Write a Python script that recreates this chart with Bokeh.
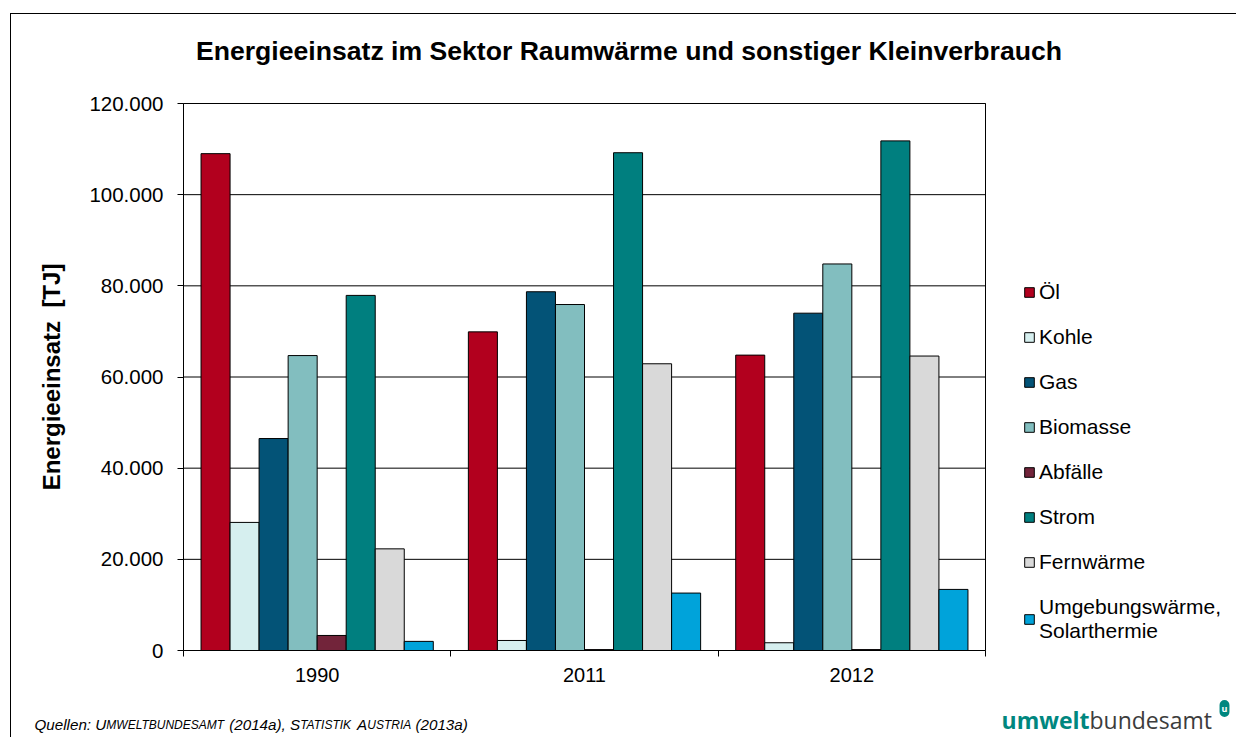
from bokeh.plotting import figure
from bokeh.models import (ColumnDataSource, Range1d, LinearAxis, FixedTicker, Legend,
                          LegendItem, Label)
from bokeh.transform import dodge
from bokeh.embed import file_html
from bokeh.resources import INLINE

# ---------------- data ----------------
years = ["1990", "2011", "2012"]
series = ["Öl", "Kohle", "Gas", "Biomasse", "Abfälle", "Strom", "Fernwärme",
          "Umgebungswärme,\nSolarthermie"]
oel = [109000, 69900, 64800]
kohle = [28100, 2200, 1700]
gas = [46500, 78700, 74000]
biomasse = [64700, 75900, 84800]
abfaelle = [3300, 200, 200]
strom = [77900, 109200, 111800]
fernwaerme = [22300, 62900, 64600]
umgebung = [2000, 12600, 13400]
colors = ["#B2001E", "#D6EFEF", "#035377", "#82BEBF", "#72243A", "#007F7F", "#D9D9D9", "#00A3DA"]
y_ticks = [0, 20000, 40000, 60000, 80000, 100000, 120000]
y_tick_labels = ["0", "20.000", "40.000", "60.000", "80.000", "100.000", "120.000"]
y_max = 120000
title_text = "Energieeinsatz im Sektor Raumwärme und sonstiger Kleinverbrauch"
y_label = "Energieeinsatz\u00a0 [TJ]"

# category positions on a numeric axis (one unit per year)
n_years = len(years)
x_centers = [i + 0.5 for i in range(n_years)]
x_edges = list(range(n_years + 1))

cols = ["oel", "kohle", "gas", "biomasse", "abfaelle", "strom", "fernwaerme", "umgebung"]
src = ColumnDataSource(dict(x=x_centers, year=years, oel=oel, kohle=kohle, gas=gas,
                            biomasse=biomasse, abfaelle=abfaelle, strom=strom,
                            fernwaerme=fernwaerme, umgebung=umgebung))
grid_src = ColumnDataSource(dict(y=y_ticks))

FONT = "Liberation Sans"

# ---------------- layout (pixels) ----------------
W, H = 1226, 724                      # canvas
PL, PR, PT, PB = 172, 974, 89, 636    # plot area inside the canvas
ux = (PR - PL) / n_years
uy = (PB - PT) / y_max
x_range = Range1d(-PL / ux, n_years + (W - PR) / ux)
y_range = Range1d(-(H - PB) / uy, y_max + PT / uy)

p = figure(x_range=x_range, y_range=y_range, width=W, height=H,
           output_backend="svg", toolbar_location=None,
           x_axis_location=None, y_axis_location=None,
           min_border=0)
p.background_fill_color = "white"
p.border_fill_color = "white"
p.outline_line_color = None
p.grid.visible = False
p.styles = {"border-left": "1px solid black", "border-top": "1px solid black",
            "margin-left": "10px", "margin-top": "13px"}

# grid lines across the plot area
p.segment(x0=0, x1=n_years, y0="y", y1="y", source=grid_src, line_color="black",
          line_width=1)

# y axis
yaxis = LinearAxis(fixed_location=0, bounds=(0, y_max), ticker=FixedTicker(ticks=y_ticks),
                   major_label_overrides={t: l for t, l in zip(y_ticks, y_tick_labels)},
                   major_tick_out=6, major_tick_in=0, minor_tick_line_color=None,
                   axis_line_color="black", major_tick_line_color="black",
                   major_label_standoff=14, major_label_text_font=FONT,
                   major_label_text_font_size="20.5px", major_label_text_color="black",
                   axis_label=y_label, axis_label_text_font=FONT,
                   axis_label_text_font_size="24px", axis_label_text_font_style="bold",
                   axis_label_text_color="black", axis_label_standoff=21)
p.add_layout(yaxis, "left")

# right border of the plot area
p.add_layout(LinearAxis(fixed_location=n_years, bounds=(0, y_max), ticker=FixedTicker(ticks=[]),
                        major_tick_line_color=None, minor_tick_line_color=None,
                        major_label_text_color=None, axis_line_color="black"), "right")
# top border of the plot area
p.add_layout(LinearAxis(fixed_location=y_max, bounds=(0, n_years), ticker=FixedTicker(ticks=[]),
                        major_tick_line_color=None, minor_tick_line_color=None,
                        major_label_text_color=None, axis_line_color="black"), "above")

# x axis: boundary ticks + category labels
p.add_layout(LinearAxis(fixed_location=0, bounds=(0, n_years), ticker=FixedTicker(ticks=x_edges),
                        major_tick_out=6, major_tick_in=0, minor_tick_line_color=None,
                        major_label_text_color=None, major_label_standoff=0,
                        axis_line_color="black", major_tick_line_color="black"), "below")
p.add_layout(LinearAxis(fixed_location=0, bounds=(0, n_years), ticker=FixedTicker(ticks=x_centers),
                        major_label_overrides={c: y for c, y in zip(x_centers, years)},
                        major_tick_line_color=None, minor_tick_line_color=None,
                        axis_line_color=None, major_tick_out=0, major_tick_in=0,
                        major_label_standoff=17, major_label_text_font=FONT,
                        major_label_text_font_size="20px", major_label_text_color="black"),
             "below")

# bars
n = len(series)
bw = 0.1086
renderers = []
for i, c in enumerate(cols):
    r = p.vbar(x=dodge("x", (i - (n - 1) / 2) * bw), top=c, width=bw,
               source=src, fill_color=colors[i], line_color="black", line_width=1)
    renderers.append(r)

legend = Legend(items=[LegendItem(label=s, renderers=[r]) for s, r in zip(series, renderers)],
                location=(1012, 95), orientation="vertical", glyph_width=12, glyph_height=12,
                label_standoff=4, spacing=21, padding=0, margin=0, border_line_color=None,
                background_fill_alpha=0, label_text_font=FONT, label_text_font_size="21px",
                label_height=23, label_text_color="black")
p.add_layout(legend)

# title
p.add_layout(Label(x=617.5, y=H - 36, x_units="screen", y_units="screen", text=title_text,
                   text_align="center", text_baseline="middle", text_font=FONT,
                   text_font_style="bold", text_font_size="26.6px", text_color="black"))

# source line with small caps (Arial-metric advance widths per 1000 em)
CW = {'Q': 778, 'u': 556, 'e': 556, 'l': 222, 'n': 556, ':': 278, ' ': 278, 'U': 722, 'M': 833,
      'W': 944, 'E': 667, 'L': 556, 'T': 611, 'B': 667, 'N': 722, 'D': 722, 'S': 667, 'A': 667,
      '(': 333, ')': 333, '0': 556, '1': 556, '2': 556, '3': 556, '4': 556, 'a': 556, ',': 278,
      'I': 278, 'K': 667, 'R': 722}
pieces = [("Quellen: U", 15.2), ("MWELTBUNDESAMT", 12), (" (2014a), S", 15.2), ("TATISTIK", 12),
          (" A", 15.2), ("USTRIA", 12), (" (2013a)", 15.2)]
cur = 23.0
for txt, sz in pieces:
    core = txt.lstrip(" ")
    cur += (len(txt) - len(core)) * CW[' '] / 1000 * sz
    p.add_layout(Label(x=cur, y=14, x_units="screen", y_units="screen", text=core,
                       text_align="left", text_baseline="alphabetic", text_font=FONT,
                       text_font_style="italic", text_font_size=f"{sz}px", text_color="black"))
    cur += sum(CW.get(ch, 556) for ch in core) / 1000 * sz

# logo
p.add_layout(Label(x=1078, y=19, x_units="screen", y_units="screen", text="umwelt",
                   text_align="right", text_baseline="alphabetic", text_font="Open Sans",
                   text_font_style="bold", text_font_size="23px", text_color="#00877F"))
p.add_layout(Label(x=1078, y=19, x_units="screen", y_units="screen", text="bundesamt",
                   text_align="left", text_baseline="alphabetic", text_font="Open Sans",
                   text_font_size="23px", text_color="#3C3C3C"))
p.add_layout(Label(x=1213, y=30, x_units="screen", y_units="screen", text="u",
                   text_align="center", text_baseline="middle", text_font="Open Sans",
                   text_font_style="bold", text_font_size="9px", text_color="white",
                   background_fill_color="#00877F", border_radius=6, padding=2))

open("out.html", "w").write(file_html(p, INLINE))
